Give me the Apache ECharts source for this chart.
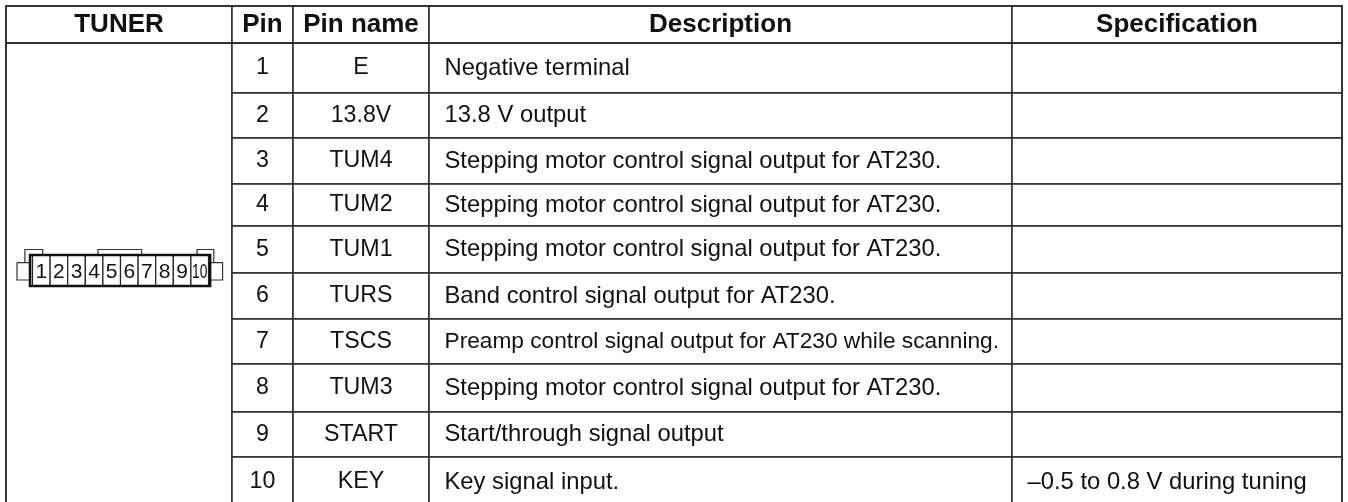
<!DOCTYPE html>
<html lang="en" style="height: 100%">
<head>
  <meta charset="utf-8">
</head>
<body style="height: 100%; margin: 0; background: #fff">
  <div id="container" style="height: 100%"></div>

  <script type="text/javascript" src="https://fastly.jsdelivr.net/npm/echarts@6/dist/echarts.min.js"></script>

  <script type="text/javascript">
    const columns = ['TUNER', 'Pin', 'Pin name', 'Description', 'Specification'];
    const pins = ['1', '2', '3', '4', '5', '6', '7', '8', '9', '10'];
    const pinNames = ['E', '13.8V', 'TUM4', 'TUM2', 'TUM1', 'TURS', 'TSCS', 'TUM3', 'START', 'KEY'];
    const descriptions = [
      'Negative terminal',
      '13.8 V output',
      'Stepping motor control signal output for AT230.',
      'Stepping motor control signal output for AT230.',
      'Stepping motor control signal output for AT230.',
      'Band control signal output for AT230.',
      'Preamp control signal output for AT230 while scanning.',
      'Stepping motor control signal output for AT230.',
      'Start/through signal output',
      'Key signal input.'
    ];
    const specifications = ['', '', '', '', '', '', '', '', '', '\u20130.5 to 0.8 V during tuning'];

    // connector drawing, in pin pitches (x) and px below the grid top (y)
    const connectorOutlines = [
      [[-0.88, 17.7], [-0.14, 17.7], [-0.14, 35], [-0.88, 35], [-0.88, 17.7]],
      [[10.09, 17.7], [10.8, 17.7], [10.8, 35], [10.09, 35], [10.09, 17.7]],
      [[-0.43, 17.7], [-0.43, 4.5], [0.58, 4.5], [0.58, 10]],
      [[9.35, 10], [9.35, 4.5], [10.3, 4.5], [10.3, 17.7]],
      [[3.72, 10], [3.72, 4.5], [6.2, 4.5], [6.2, 10]]
    ];

    const colWidths = [226, 60.5, 136, 583.5, 330];
    const rowHeights = [49.5, 45.5, 45.5, 42, 47.5, 45.5, 45, 48, 45.7, 50];
    const lineColor = '#2a2a2a';
    const fontFamily = '"Liberation Sans", Arial, sans-serif';

    // the long Preamp row is set tighter than the others in the reference
    function leftCell(text) {
      return {
        position: 'insideLeft',
        distance: 12.5,
        align: 'left',
        overflow: 'none',
        fontSize: text.indexOf('Preamp') === 0 ? 22.7 : 23.8
      };
    }

    const body = [{ coord: [0, [0, 9]], mergeCells: true, value: '' }];
    pins.forEach(function (pin, i) {
      body.push({ coord: [1, i], value: pin });
      body.push({ coord: [2, i], value: pinNames[i] });
      body.push({ coord: [3, i], value: descriptions[i], label: leftCell(descriptions[i]) });
      body.push({ coord: [4, i], value: specifications[i], label: leftCell(specifications[i]) });
    });

    var dom = document.getElementById('container');
    var myChart = echarts.init(dom, null, { renderer: 'canvas' });

    var option = {
      animation: false,
      backgroundColor: '#fff',
      matrix: {
        left: 6,
        top: 6,
        width: colWidths.reduce((a, b) => a + b, 0),
        height: 37 + rowHeights.reduce((a, b) => a + b, 0),
        backgroundStyle: { color: '#fff', borderColor: lineColor, borderWidth: 1.5 },
        x: {
          levelSize: 37,
          data: columns.map((c, i) => ({ value: c, size: colWidths[i] })),
          label: { color: '#111', fontFamily: fontFamily, fontSize: 26, fontWeight: 'bold', overflow: 'none' },
          itemStyle: { color: '#fff', borderColor: lineColor, borderWidth: 1.5 },
          dividerLineStyle: { color: lineColor, width: 1.5 }
        },
        y: {
          show: false,
          levelSize: 0,
          data: pins.map((p, i) => ({ value: p, size: rowHeights[i] }))
        },
        body: {
          data: body,
          label: { color: '#111', fontFamily: fontFamily, fontSize: 23.2, overflow: 'none' },
          itemStyle: { color: '#fff', borderColor: lineColor, borderWidth: 1.5 }
        },
        corner: { show: false }
      },
      grid: { left: 14.9, top: 245, width: 211.2, height: 45 },
      xAxis: { type: 'value', min: -1, max: 11, show: false },
      yAxis: { type: 'value', min: 0, max: 45, inverse: true, show: false },
      series: [
        {
          type: 'custom',
          silent: true,
          coordinateSystem: 'cartesian2d',
          data: connectorOutlines.map((o, i) => [i]),
          renderItem: function (params, api) {
            return {
              type: 'polyline',
              shape: { points: connectorOutlines[params.dataIndex].map(p => api.coord(p)) },
              style: { fill: 'none', stroke: '#333', lineWidth: 1.2 }
            };
          }
        },
        {
          type: 'custom',
          silent: true,
          coordinateSystem: 'cartesian2d',
          data: pins.map((p, i) => [i, p]),
          renderItem: function (params, api) {
            const i = api.value(0);
            const a = api.coord([i, 10]);
            const b = api.coord([i + 1, 41]);
            const label = pins[params.dataIndex];
            return {
              type: 'group',
              children: [
                {
                  type: 'rect',
                  shape: { x: a[0], y: a[1], width: b[0] - a[0], height: b[1] - a[1] },
                  style: { fill: '#fff', stroke: '#222', lineWidth: 1.2 }
                },
                {
                  type: 'text',
                  x: (a[0] + b[0]) / 2,
                  y: (a[1] + b[1]) / 2 + 2,
                  scaleX: label.length > 1 ? 0.66 : 1,
                  style: {
                    text: label,
                    fill: '#111',
                    font: '21px ' + fontFamily,
                    align: 'center',
                    verticalAlign: 'middle'
                  }
                }
              ]
            };
          }
        },
        {
          type: 'custom',
          silent: true,
          coordinateSystem: 'cartesian2d',
          data: [[-0.14, 10, 10.09, 41]],
          renderItem: function (params, api) {
            const a = api.coord([api.value(0), api.value(1)]);
            const b = api.coord([api.value(2), api.value(3)]);
            return {
              type: 'rect',
              shape: { x: a[0], y: a[1], width: b[0] - a[0], height: b[1] - a[1] },
              style: { fill: 'none', stroke: '#111', lineWidth: 2.6 }
            };
          }
        }
      ]
    };

    myChart.setOption(option);
    window.addEventListener('resize', myChart.resize);
  </script>
</body>
</html>
